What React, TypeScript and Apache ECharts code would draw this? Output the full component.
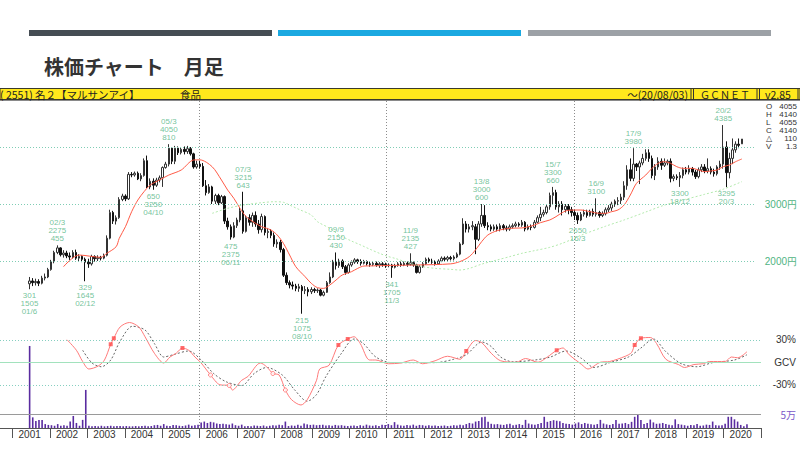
import React, { useEffect, useRef } from 'react';
import * as echarts from 'echarts';

const NARROW = '"Liberation Sans Narrow", "Liberation Sans", sans-serif';
const JP = '"Noto Sans CJK JP", sans-serif';

// monthly candles [open, close, low, high], from 2001/6 to 2020/8
const firstCandleMonth = '2001/6';
const candles: number[][] = [
  // 2001
  [1600,1650,1505,1720],[1650,1620,1560,1700],[1620,1640,1570,1690],[1640,1610,1560,1680],[1610,1700,1590,1740],[1700,1720,1660,1780],[1720,1850,1700,1880],
  // 2002
  [1850,1990,1830,2020],[1990,2150,1960,2180],[2150,2230,2120,2275],[2230,2110,2080,2240],[2110,2140,2060,2190],[2140,2090,2050,2180],[2090,2070,2020,2150],[2070,2150,2040,2190],[2150,2050,2020,2200],[2050,2080,2000,2120],[2080,2030,1980,2100],[2030,1980,1645,2060],
  // 2003
  [1980,1950,1880,2040],[1950,2080,1920,2110],[2080,2040,1990,2100],[2040,2060,2000,2100],[2060,2050,2010,2090],[2050,2100,2030,2130],[2100,2400,2080,2450],[2400,2850,2380,2900],[2850,2700,2650,2880],[2700,2760,2640,2800],[2760,3080,2740,3120],[3080,3140,3050,3180],
  // 2004
  [3140,3090,3050,3170],[3090,3520,3070,3560],[3520,3510,3470,3560],[3510,3540,3480,3570],[3540,3440,3420,3570],[3440,3500,3400,3540],[3500,3760,3480,3800],[3760,3300,3280,3850],[3300,3400,3260,3450],[3400,3330,3250,3450],[3330,3420,3300,3460],[3420,3460,3380,3500],
  // 2005
  [3460,3640,3300,3660],[3640,3700,3620,3740],[3700,3980,3660,4050],[3980,3750,3700,4000],[3750,3980,3700,4020],[3980,3900,3860,4010],[3900,3960,3870,4000],[3960,3920,3870,4010],[3920,3970,3880,4020],[3970,3880,3850,4000],[3880,3650,3620,3900],[3650,3700,3620,3760],
  // 2006
  [3700,3660,3620,3760],[3660,3320,3300,3720],[3320,3200,3150,3420],[3200,3300,3180,3350],[3300,3050,3000,3320],[3050,3150,3000,3180],[3150,3020,2980,3180],[3020,3130,3000,3160],[3130,2700,2650,3150],[2700,2600,2550,2760],[2600,2420,2375,2640],[2420,2620,2400,2680],
  // 2007
  [2620,2720,2580,2760],[2720,2880,2680,2930],[2880,2520,2480,3215],[2520,2760,2500,2800],[2760,2680,2620,2820],[2680,2800,2600,2850],[2800,2650,2600,2870],[2650,2550,2480,2720],[2550,2780,2500,2830],[2780,2500,2450,2800],[2500,2520,2400,2580],[2520,2450,2400,2560],
  // 2008
  [2450,2300,2250,2500],[2300,2330,2230,2380],[2330,2200,2150,2370],[2200,1750,1720,2230],[1750,1620,1580,1800],[1620,1580,1520,1660],[1580,1560,1500,1640],[1560,1520,1470,1600],[1520,1550,1460,1600],[1550,1480,1075,1580],[1480,1500,1420,1560],[1500,1460,1380,1540],
  // 2009
  [1460,1500,1420,1540],[1500,1480,1440,1530],[1480,1490,1440,1520],[1490,1400,1380,1510],[1400,1450,1380,1480],[1450,1620,1440,1650],[1620,1720,1600,1800],[1720,1980,1700,2020],[1980,1920,1850,2150],[1920,2000,1880,2040],[2000,1900,1860,2030],[1900,1800,1760,1930],
  // 2010
  [1800,1930,1780,1960],[1930,1980,1900,2010],[1980,2020,1950,2050],[2020,1990,1950,2040],[1990,1960,1920,2030],[1960,1990,1940,2020],[1990,1950,1920,2010],[1950,1940,1900,1990],[1940,1960,1910,1990],[1960,1930,1900,1990],[1930,1950,1880,1980],[1950,1940,1900,1980],
  // 2011
  [1940,1920,1880,1970],[1920,1930,1890,1960],[1930,1890,1705,1950],[1890,1920,1870,1950],[1920,1950,1900,1980],[1950,1930,1900,1990],[1930,1960,1910,1990],[1960,1940,1900,1990],[1940,1970,1920,2135],[1970,1930,1900,1990],[1930,1800,1780,1950],[1800,1900,1780,1930],
  // 2012
  [1900,1950,1880,1980],[1950,2030,1930,2060],[2030,2000,1970,2060],[2000,1980,1950,2040],[1980,1950,1920,2010],[1950,2000,1930,2030],[2000,2050,1980,2080],[2050,2030,2000,2080],[2030,2060,2000,2090],[2060,2040,2010,2090],[2040,2070,2010,2100],[2070,2120,2050,2150],
  // 2013
  [2120,2300,2100,2330],[2300,2650,2280,2750],[2650,2560,2500,2700],[2560,2600,2500,2650],[2600,2620,2540,2700],[2600,2380,2120,2650],[2380,2650,2350,2700],[2650,2800,2600,3000],[2800,2620,2580,2980],[2620,2600,2540,2680],[2600,2560,2520,2640],[2560,2600,2530,2640],
  // 2014
  [2600,2560,2520,2640],[2560,2620,2520,2660],[2620,2580,2540,2650],[2580,2560,2520,2620],[2560,2600,2530,2640],[2600,2620,2570,2660],[2620,2650,2590,2690],[2650,2630,2600,2680],[2630,2680,2600,2720],[2680,2560,2520,2700],[2560,2600,2540,2640],[2600,2590,2540,2640],
  // 2015
  [2590,2680,2570,2720],[2680,2760,2660,2800],[2760,2820,2700,2950],[2820,2850,2780,2900],[2850,2950,2820,3000],[2950,3150,2900,3200],[3150,3200,3000,3300],[3200,2950,2900,3250],[2950,3000,2850,3050],[3000,2900,2800,3050],[2900,2960,2850,3000],[2960,2900,2820,3000],
  // 2016
  [2900,2850,2780,2950],[2850,2800,2720,2900],[2800,2720,2650,2850],[2720,2820,2700,2860],[2820,2850,2780,2900],[2850,2800,2760,2900],[2800,2870,2780,2900],[2870,2820,2780,2920],[2820,2850,2780,3100],[2850,2800,2760,2880],[2800,2830,2770,2870],[2830,2900,2800,2940],
  // 2017
  [2900,2930,2860,2980],[2930,3000,2880,3040],[3000,3050,2950,3080],[3050,3060,2980,3120],[3060,3120,3000,3180],[3120,3320,3070,3400],[3320,3600,3250,3680],[3600,3450,3400,3800],[3450,3700,3400,3980],[3700,3650,3580,3720],[3650,3720,3350,3760],[3720,3800,3680,3880],
  // 2018
  [3800,3900,3760,3960],[3900,3800,3740,3960],[3800,3500,3450,3850],[3500,3650,3420,3700],[3650,3750,3600,3820],[3750,3680,3600,3800],[3680,3720,3650,3800],[3720,3750,3680,3780],[3750,3450,3380,3800],[3450,3480,3400,3520],[3480,3460,3420,3520],[3460,3500,3300,3560],
  // 2019
  [3500,3600,3450,3640],[3600,3560,3520,3650],[3560,3620,3520,3680],[3620,3560,3500,3650],[3560,3480,3440,3600],[3480,3600,3450,3640],[3600,3650,3560,3700],[3650,3580,3540,3700],[3580,3620,3540,3800],[3620,3560,3520,3660],[3560,3530,3480,3620],[3530,3650,3500,3680],
  // 2020
  [3650,3700,3600,3760],[3700,4000,3620,4385],[4000,3550,3295,4100],[3550,3800,3450,3900],[3800,3950,3700,4150],[3950,4050,3900,4100],[4050,4030,3980,4150],[4055,4140,4055,4140],
];

// monthly volume (thousand shares), from 2001/6
const volumes: number[] = [
  293,38,25,29,29,14,11,
  10,8,14,8,10,8,23,43,18,8,29,136,
  8,6,7,6,8,6,7,8,6,7,7,6,
  7,6,6,7,6,7,8,6,7,10,11,8,
  14,8,7,11,10,8,7,9,12,8,10,12,
  20,23,18,22,20,16,14,15,13,12,16,10,
  8,12,6,7,6,9,8,7,9,6,8,10,
  9,12,10,23,7,9,8,12,8,16,13,11,
  12,10,11,12,9,10,8,11,9,10,8,7,
  8,9,7,10,8,12,9,8,10,7,12,11,
  14,10,21,12,9,8,11,9,12,8,11,10,
  8,10,8,9,7,8,9,7,8,10,9,12,
  10,14,18,16,23,25,38,40,22,15,13,14,
  12,11,13,15,10,12,14,11,29,16,13,12,
  14,18,40,22,25,28,26,24,18,15,14,12,
  16,20,14,18,15,13,12,14,29,16,13,11,
  14,29,15,16,18,14,22,40,46,29,14,18,
  30,20,15,16,18,14,12,10,31,14,12,10,
  8,11,10,14,8,9,12,11,23,10,9,10,
  15,40,40,31,23,11,6,13,
];

// 12-month moving average (red)
const maShortMonths = ['2002/5','2002/10','2003/5','2003/7','2003/10','2003/11','2004/1','2004/3','2004/5','2004/7','2004/9','2004/12','2005/3','2005/7','2005/11','2006/1','2006/5','2006/8','2006/10','2006/12','2007/2','2007/4','2007/7','2007/9','2007/12','2008/2','2008/4','2008/6','2008/8','2008/11','2009/1','2009/3','2009/5','2009/7','2009/9','2009/11','2010/2','2010/4','2010/6','2010/9','2010/12','2011/11','2012/10','2013/1','2013/4','2013/6','2013/8','2013/10','2014/1','2014/5','2014/9','2014/11','2015/1','2015/3','2015/6','2015/8','2015/10','2015/12','2016/4','2016/7','2016/10','2016/12','2017/2','2017/4','2017/6','2017/8','2017/10','2018/1','2018/3','2018/5','2018/7','2018/9','2018/11','2019/1','2019/4','2019/6','2019/8','2019/10','2019/12','2020/2','2020/4','2020/6','2020/8'];
const maShortValues = [1900,2105,2065,2135,2251,2398,2602,2865,3070,3216,3333,3421,3508,3596,3772,3775,3654,3421,3245,3100,2924,2777,2661,2602,2544,2456,2310,2105,1900,1725,1608,1532,1520,1579,1667,1754,1813,1871,1912,1915,1920,1930,1950,1990,2076,2193,2339,2456,2532,2573,2580,2600,2630,2673,2720,2778,2848,2890,2895,2866,2837,2837,2866,2895,2983,3158,3363,3509,3626,3714,3743,3714,3655,3626,3626,3597,3568,3580,3597,3655,3685,3743,3790];

// 60-month moving average (green)
const maLongMonths = ['2006/5','2006/10','2007/3','2007/9','2008/1','2008/4','2008/6','2008/9','2009/1','2009/3','2009/7','2009/10','2010/2','2010/5','2010/8','2010/11','2011/2','2011/4','2011/9','2012/1','2012/5','2012/10','2013/1','2013/4','2013/8','2014/1','2014/5','2014/9','2015/1','2015/6','2015/10','2016/2','2016/4','2016/12','2017/6','2018/1','2018/7','2019/1','2019/8','2020/2','2020/8'];
const maLongValues = [2836,2924,2982,3023,3040,3030,2982,2906,2807,2690,2573,2456,2350,2280,2205,2135,2076,2047,1959,1900,1871,1854,1842,1870,1945,2018,2076,2135,2181,2240,2310,2400,2450,2610,2720,2860,2980,3070,3170,3260,3392];

// oscillator (%), red line and grey signal line
const oscMonths = ['2002/6','2002/9','2002/11','2003/1','2003/4','2003/6','2003/8','2003/9','2003/11','2004/2','2004/5','2004/7','2004/10','2005/1','2005/3','2005/5','2005/7','2005/9','2005/11','2006/1','2006/4','2006/7','2006/10','2006/11','2007/2','2007/4','2007/8','2007/10','2007/12','2008/2','2008/4','2008/6','2008/9','2008/11','2009/2','2009/3','2009/6','2009/9','2009/12','2010/2','2010/4','2010/7','2010/9','2011/1','2011/5','2011/9','2011/12','2012/4','2012/8','2012/12','2013/2','2013/5','2013/7','2013/10','2014/1','2014/6','2014/9','2015/1','2015/4','2015/7','2015/9','2015/11','2016/3','2016/5','2016/9','2016/12','2017/5','2017/7','2017/8','2017/10','2018/1','2018/3','2018/6','2018/10','2018/12','2019/3','2019/6','2019/8','2020/1','2020/3','2020/5','2020/8'];
const oscValues = [30,16,1,-9,-5,3,24,32,47,53,47,34,12,-1,7,12,19,16,7,-1,-17,-30,-31,-37,-24,-19,-1,-6,-15,-17,-37,-50,-57,-50,-24,-9,-4,23,31,34,25,3,3,-2,-1,3,-2,2,8,4,15,29,26,12,2,0,5,0,7,16,19,10,-3,-9,0,1,8,13,23,32,33,25,4,-3,-7,-3,-2,1,1,7,6,14];
const sigMonths = ['2002/11','2003/2','2003/5','2003/8','2003/11','2004/3','2004/7','2004/10','2005/1','2005/4','2005/9','2006/1','2006/5','2006/9','2007/2','2007/6','2007/10','2008/3','2008/7','2008/11','2009/2','2009/5','2009/10','2010/2','2010/5','2010/9','2011/2','2011/9','2012/4','2012/10','2013/2','2013/7','2013/10','2014/1','2014/5','2014/12','2015/5','2015/10','2016/3','2016/7','2016/12','2017/6','2017/10','2018/2','2018/6','2018/11','2019/4','2019/9','2020/4','2020/8'];
const sigValues = [16,-1,-6,3,28,48,43,25,7,10,15,3,-15,-26,-31,-15,-7,-17,-37,-52,-43,-19,12,31,25,7,-0.5,-0.5,-0.5,4,10,27,21,7,0.5,3,7,15,5,-7,-0.5,7,19,31,14,-2,-6,-0.5,3,10];
const buySignalMonths = ['2003/8','2003/9','2005/7','2009/9','2009/12','2013/2','2015/7','2017/8','2017/10'];
const sellSignalMonths = ['2006/4','2006/10','2007/12','2008/4'];

// annotated highs and lows
const highDates = ['2002/3','2005/3','2007/3','2009/9','2011/9','2013/8','2015/7','2016/9','2017/9','2020/2'];
const highPrices = [2275,4050,3215,2150,2135,3000,3300,3100,3980,4385];
const highNotes = ['455','810','643','430','427','600','660','','',''];
const lowDates = ['2001/6','2002/12','2004/10','2006/11','2008/10','2011/3','2016/3','2018/12','2020/3'];
const lowPrices = [1505,1645,3250,2375,1075,1705,2650,3300,3295];
const lowNotes = ['301','329','650','475','215','341','','',''];

const gridPrices = [2000, 3000, 4000];
const priceLabels = [2000, 3000];
const dividerMonths = ['2006/1', '2011/1', '2016/1'];

// category axis: 2000/9 .. 2020/12
const months: string[] = [];
for (let y = 2000, m = 9; y < 2021; ) {
  months.push(`${y}/${m}`);
  m++;
  if (m > 12) { m = 1; y++; }
}

const GREEN_TXT = '#4fb482';

function buildOption() {
  const start = months.indexOf(firstCandleMonth);
  const candleData = months.map((_, i) => candles[i - start] || '-');
  const volData = months.map((_, i) => (volumes[i - start] !== undefined ? volumes[i - start] : '-'));
  const short = (d: string) => d.slice(2);
  const oscOf = (m: string) => oscValues[oscMonths.indexOf(m)];

  const last = candles[candles.length - 1];
  const prev = candles[candles.length - 2];
  const lastVol = volumes[volumes.length - 1];
  const infoRows: [string, string][] = [
    ['O', String(last[0])],
    ['H', String(last[3])],
    ['L', String(last[2])],
    ['C', String(last[1])],
    ['△', String(last[1] - prev[1])],
    ['V', (lastVol / 10).toFixed(1)],
  ];

  const graphic: any[] = [
    { type: 'rect', shape: { x: 29, y: 30, width: 243, height: 6 }, style: { fill: '#454d54' } },
    { type: 'rect', shape: { x: 278, y: 30, width: 243, height: 6 }, style: { fill: '#1ba9e1' } },
    { type: 'rect', shape: { x: 528, y: 30, width: 243, height: 6 }, style: { fill: '#9ca1a6' } },
    { type: 'text', x: 44, y: 66, style: { text: '株価チャート　月足', fill: '#333', font: `bold 20px ${JP}`, verticalAlign: 'middle' } },
    { type: 'rect', shape: { x: 0, y: 88.5, width: 800, height: 11 }, style: { fill: '#ffe81c', stroke: '#3a3a2a', lineWidth: 1 } },
    { type: 'rect', shape: { x: 0, y: 100, width: 800, height: 1 }, style: { fill: '#8a8a8a' } },
    { type: 'text', x: 0, y: 94.5, style: { text: '( 2551) 名２【マルサンアイ】', fill: '#222', font: `10.5px ${JP}`, verticalAlign: 'middle' } },
    { type: 'text', x: 180, y: 94.5, style: { text: '食品', fill: '#222', font: `10.5px ${JP}`, verticalAlign: 'middle' } },
    { type: 'text', x: 688, y: 94.5, style: { text: '～(20/08/03)', fill: '#222', font: `10.5px ${JP}`, align: 'right', verticalAlign: 'middle' } },
    { type: 'text', x: 700, y: 94.5, style: { text: 'ＧＣＮＥＴ', fill: '#222', font: `10px ${JP}`, verticalAlign: 'middle' } },
    { type: 'text', x: 765, y: 94.5, style: { text: 'v2.85', fill: '#222', font: `10.5px ${JP}`, verticalAlign: 'middle' } },
    ...[691, 693.5, 757, 759.5, 798].map((x) => ({ type: 'line', shape: { x1: x, y1: 89, x2: x, y2: 99.5 }, style: { stroke: '#333', lineWidth: 1 } })),
  ];
  infoRows.forEach(([k, v], i) => {
    const y = 106 + i * 8;
    graphic.push({ type: 'text', x: 766, y, style: { text: k, fill: '#333', font: `8px ${NARROW}`, verticalAlign: 'middle' } });
    graphic.push({ type: 'text', x: 797, y, style: { text: v, fill: '#333', font: `8px ${NARROW}`, align: 'right', verticalAlign: 'middle' } });
  });

  const gridBase = { left: -1, width: 762 };
  const hiddenX = (gridIndex: number) => ({ type: 'category', data: months, gridIndex, boundaryGap: true, show: false });
  const noteLabel = { show: true, distance: 2, color: GREEN_TXT, fontSize: 8, lineHeight: 8, fontFamily: NARROW };

  return {
    animation: false,
    backgroundColor: '#ffffff',
    graphic,
    grid: [
      { ...gridBase, top: 100, height: 218 },
      { ...gridBase, top: 317.25, height: 112.5 },
      { ...gridBase, top: 330, height: 98 },
      { ...gridBase, top: 101, height: 327 },
    ],
    xAxis: [
      hiddenX(0),
      hiddenX(1),
      {
        type: 'category', data: months, gridIndex: 2, boundaryGap: true,
        axisLine: { show: true, lineStyle: { color: '#555', width: 1 } },
        axisTick: { show: true, length: 10, interval: (_i: number, v: string) => v.endsWith('/1'), lineStyle: { color: '#555' } },
        axisLabel: { show: true, interval: (_i: number, v: string) => v.endsWith('/6'), formatter: (v: string) => v.split('/')[0], color: '#333', fontSize: 10, fontFamily: NARROW, margin: 1 },
        splitLine: { show: false },
      },
      {
        type: 'category', data: months, gridIndex: 3, boundaryGap: true,
        axisLine: { show: false }, axisTick: { show: false }, axisLabel: { show: false },
        splitLine: { show: true, showMaxLine: false, interval: (_i: number, v: string) => dividerMonths.includes(v), lineStyle: { color: '#8c8c8c', type: [1, 2], width: 1 } },
      },
    ],
    yAxis: [
      {
        type: 'value', gridIndex: 0, position: 'right', min: 1000, max: 4825, interval: 1000,
        axisLine: { show: false }, axisTick: { show: false }, splitLine: { show: false },
        axisLabel: { margin: 9, color: GREEN_TXT, fontSize: 10, fontFamily: NARROW, formatter: (v: number) => (priceLabels.includes(v) ? `${v}円` : '') },
      },
      {
        type: 'value', gridIndex: 1, position: 'right', min: -90, max: 60, interval: 30,
        axisLine: { show: false }, axisTick: { show: false }, splitLine: { show: false },
        axisLabel: { margin: 35, align: 'right', color: '#333', fontSize: 10, fontFamily: NARROW, formatter: (v: number) => (v === 30 ? '30%' : v === 0 ? 'GCV' : v === -30 ? '-30%' : '') },
      },
      {
        type: 'value', gridIndex: 2, position: 'right', min: 0, max: 350, interval: 50,
        axisLine: { show: false }, axisTick: { show: false }, splitLine: { show: false },
        axisLabel: { margin: 35, align: 'right', color: '#7a58c8', fontSize: 10, fontFamily: JP, formatter: (v: number) => (v === 50 ? '5万' : '') },
      },
      { type: 'value', gridIndex: 3, min: 0, max: 1, show: false },
    ],
    series: [
      {
        type: 'candlestick', xAxisIndex: 0, yAxisIndex: 0, data: candleData, barWidth: 2, z: 2,
        itemStyle: { color: '#ffffff', color0: '#111111', borderColor: '#333333', borderColor0: '#111111', borderWidth: 1 },
        markLine: {
          silent: true, symbol: 'none', label: { show: false },
          lineStyle: { color: '#7fcdb4', type: [1, 2], width: 1 },
          data: gridPrices.map((v) => ({ yAxis: v })),
        },
      },
      {
        type: 'line', xAxisIndex: 0, yAxisIndex: 0, z: 3, smooth: 0.3, showSymbol: false,
        data: maShortMonths.map((m, i) => [m, maShortValues[i]]),
        lineStyle: { color: '#ff5a46', width: 1 },
      },
      {
        type: 'line', xAxisIndex: 0, yAxisIndex: 0, z: 3, smooth: 0.3, showSymbol: false,
        data: maLongMonths.map((m, i) => [m, maLongValues[i]]),
        lineStyle: { color: '#b4eaae', width: 1, type: [2, 2] },
      },
      {
        type: 'scatter', xAxisIndex: 0, yAxisIndex: 0, z: 4, symbolSize: 1, itemStyle: { color: 'transparent' },
        data: highDates.map((d, i) => [d, highPrices[i]]),
        label: {
          ...noteLabel, position: 'top',
          formatter: (p: any) => [short(highDates[p.dataIndex]), String(highPrices[p.dataIndex]), highNotes[p.dataIndex]].filter(Boolean).join('\n'),
        },
      },
      {
        type: 'scatter', xAxisIndex: 0, yAxisIndex: 0, z: 4, symbolSize: 1, itemStyle: { color: 'transparent' },
        data: lowDates.map((d, i) => [d, lowPrices[i]]),
        label: {
          ...noteLabel, position: 'bottom',
          formatter: (p: any) => [lowNotes[p.dataIndex], String(lowPrices[p.dataIndex]), short(lowDates[p.dataIndex])].filter(Boolean).join('\n'),
        },
      },
      {
        type: 'line', xAxisIndex: 1, yAxisIndex: 1, z: 3, smooth: 0.3, showSymbol: false,
        data: oscMonths.map((m, i) => [m, oscValues[i]]),
        lineStyle: { color: '#ff7a7a', width: 1 },
        markLine: {
          silent: true, symbol: 'none', label: { show: false },
          data: [
            { yAxis: 30, lineStyle: { color: '#86cfc0', type: [1, 2], width: 1 } },
            { yAxis: 0, lineStyle: { color: '#a2e2bd', type: 'solid', width: 1 } },
            { yAxis: -30, lineStyle: { color: '#86cfc0', type: [1, 2], width: 1 } },
          ],
        },
      },
      {
        type: 'line', xAxisIndex: 1, yAxisIndex: 1, z: 2, smooth: 0.3, showSymbol: false,
        data: sigMonths.map((m, i) => [m, sigValues[i]]),
        lineStyle: { color: '#666', width: 1, type: [2, 2] },
      },
      {
        type: 'scatter', xAxisIndex: 1, yAxisIndex: 1, z: 5, symbol: 'rect', symbolSize: 4,
        itemStyle: { color: '#ff4a4a' },
        data: buySignalMonths.map((m) => [m, oscOf(m)]),
      },
      {
        type: 'scatter', xAxisIndex: 1, yAxisIndex: 1, z: 5, symbol: 'circle', symbolSize: 4,
        itemStyle: { color: '#ffffff', borderColor: '#ff6a6a', borderWidth: 1 },
        data: sellSignalMonths.map((m) => [m, oscOf(m)]),
      },
      {
        type: 'bar', xAxisIndex: 2, yAxisIndex: 2, data: volData, barWidth: 1.6, z: 2,
        itemStyle: { color: '#5a2ca0' },
        markLine: {
          silent: true, symbol: 'none', label: { show: false },
          lineStyle: { color: '#9a9a9a', type: 'solid', width: 1 },
          data: [{ yAxis: 50 }],
        },
      },
    ],
  };
}

export default function App() {
  const ref = useRef<HTMLDivElement>(null);
  useEffect(() => {
    const chart = echarts.init(ref.current as HTMLDivElement, null, { renderer: 'svg' });
    chart.setOption(buildOption() as any);
    return () => chart.dispose();
  }, []);
  return <div ref={ref} style={{ position: 'fixed', left: 0, top: 0, width: 800, height: 450, background: '#fff' }} />;
}
